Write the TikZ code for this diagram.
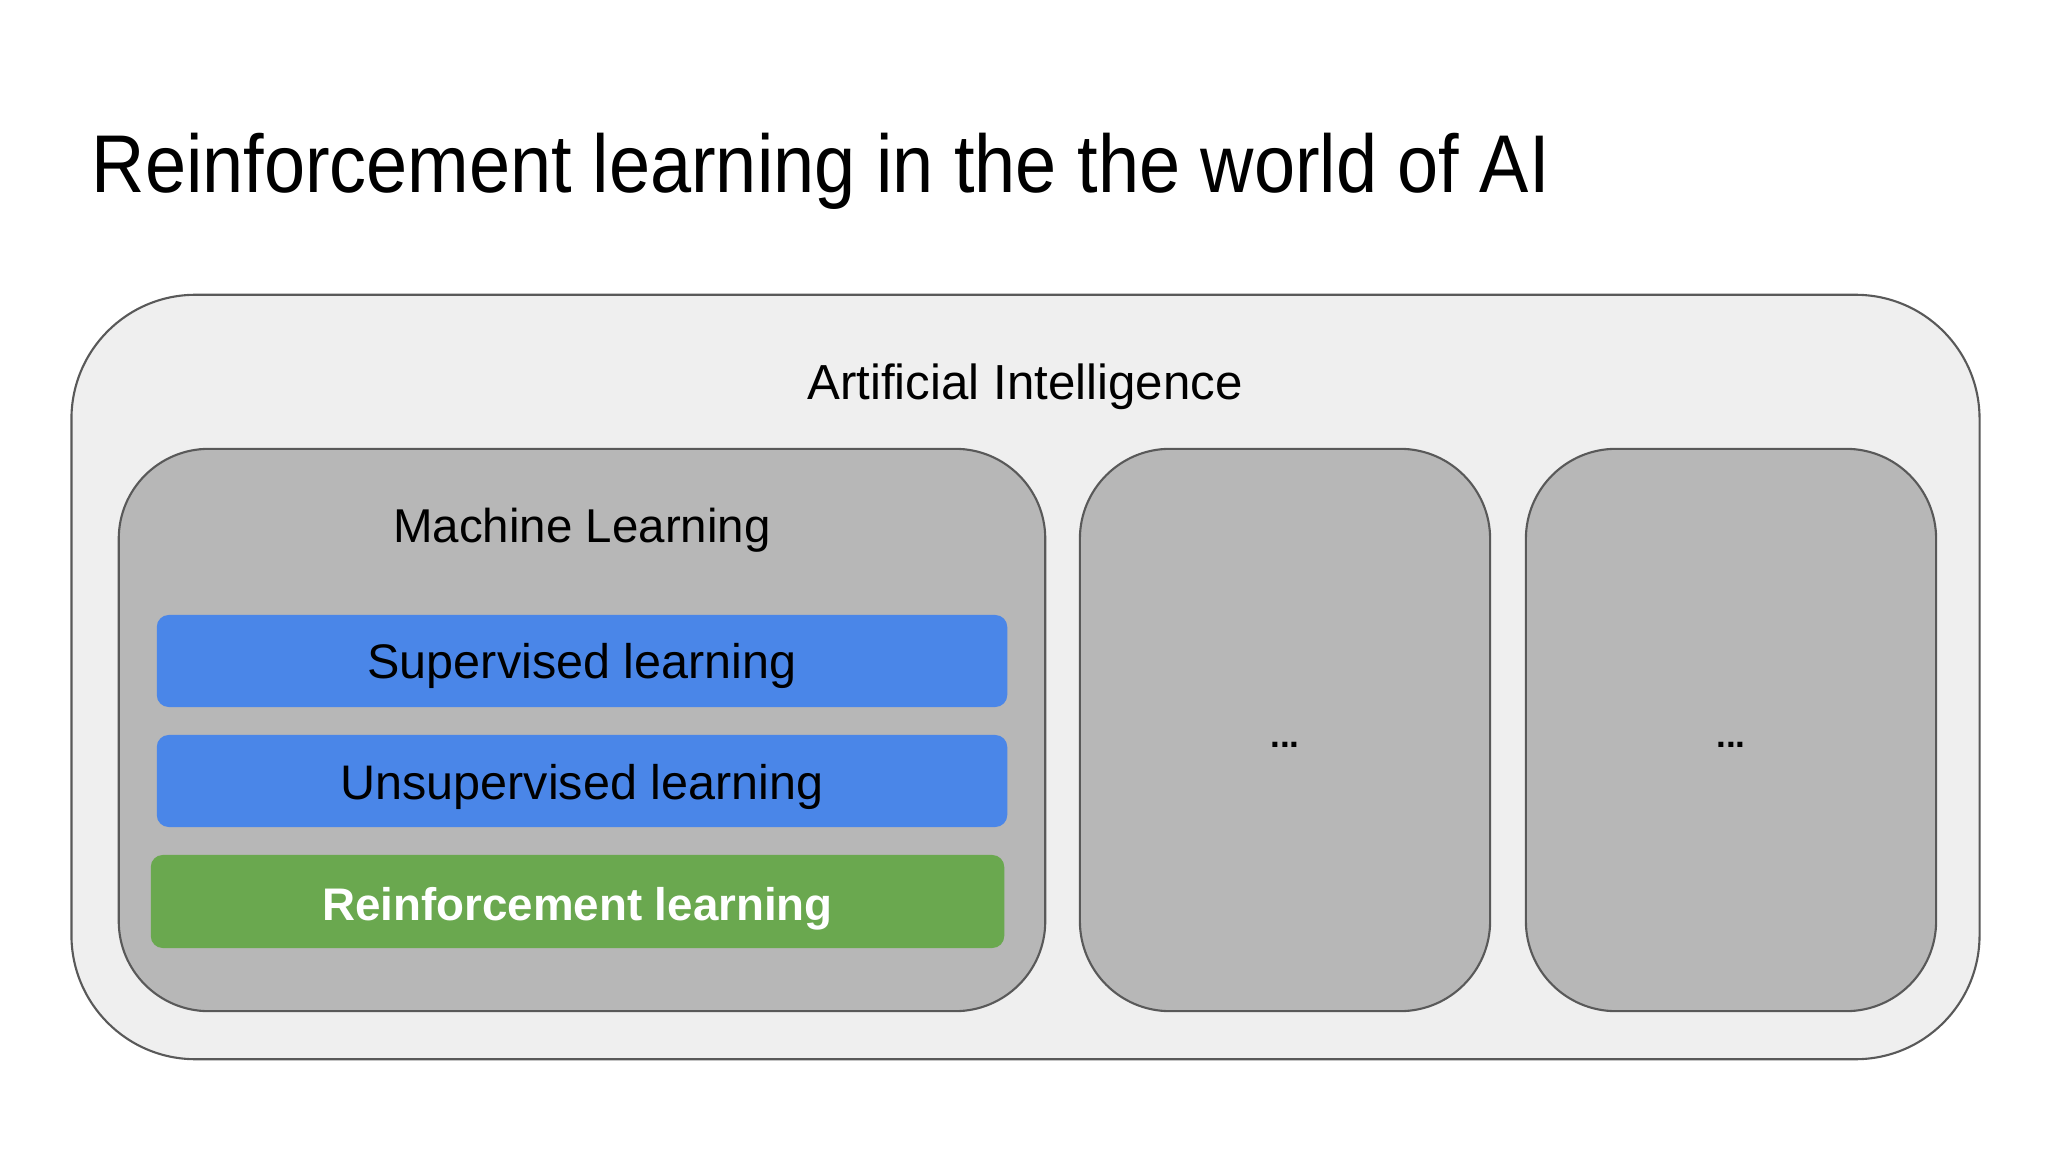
\documentclass[tikz,border=0pt]{standalone}
\usepackage{fontspec}
\setmainfont{Liberation Sans}
\newfontfamily\titlefont{Liberation Sans}[FakeStretch=0.902]
\usetikzlibrary{positioning}
\definecolor{aibg}{HTML}{EFEFEF}
\definecolor{mlbg}{HTML}{B7B7B7}
\definecolor{edgegray}{HTML}{595959}
\definecolor{blueb}{HTML}{4A86E8}
\definecolor{greenb}{HTML}{6AA84F}
\tikzset{
    aibox/.style = {rectangle, rounded corners=1.24cm, draw=edgegray, line width=0.6pt, fill=aibg, inner sep=0pt, outer sep=0pt},
    mlbox/.style = {rectangle, rounded corners=0.9cm, draw=edgegray, line width=0.6pt, fill=mlbg, inner sep=0pt, outer sep=0pt, minimum height=5.62cm},
    bluebox/.style = {rectangle, rounded corners=0.12cm, fill=blueb, inner sep=0pt, minimum width=8.5cm, minimum height=0.92cm},
    greenbox/.style = {rectangle, rounded corners=0.12cm, fill=greenb, inner sep=0pt, minimum width=8.53cm, minimum height=0.93cm},
    boxlabel/.style = {anchor=base, inner sep=0pt, font=\fontsize{14}{17}\selectfont, text=black},
    bluelabel/.style = {anchor=base, inner sep=0pt, font=\fontsize{13.8}{17}\selectfont, text=black},
    greenlabel/.style = {anchor=base, inner sep=0pt, font=\fontsize{13}{16}\selectfont\bfseries, text=white}
}
\begin{document}
\begin{tikzpicture}[x=0.01cm, y=-0.01cm]
  \path[use as bounding box, fill=white] (0,0) rectangle (2048,1152);
  \node[anchor=base west, inner sep=0pt, font=\titlefont\fontsize{23.3}{28}\selectfont] (title) at (91,193) {Reinforcement learning in the the world of AI};
  % outer box and the three inner ones
  \node[aibox, minimum width=19.07cm, minimum height=7.64cm] (ai) at (1025.5,677) {};
  \node[mlbox, minimum width=9.26cm] (ml) at (582,730) {};
  \node[mlbox, minimum width=4.1cm] (other1) at (1285,730) {};
  \node[mlbox, minimum width=4.1cm] (other2) at (1731,730) {};
  \node[boxlabel] (ailabel) at (1025,400) {Artificial Intelligence};
  \node[boxlabel, font=\fontsize{13.5}{16}\selectfont] (mllabel) at (582,543) {Machine Learning};
  % kinds of learning
  \node[bluebox] (sup) at (582,661) {};
  \node[bluebox] (unsup) at (582,781) {};
  \node[greenbox] (rl) at (577.5,901.5) {};
  \node[bluelabel] (suplabel) at (582,678) {Supervised learning};
  \node[bluelabel] (unsuplabel) at (582,799) {Unsupervised learning};
  \node[greenlabel] (rllabel) at (577.5,920) {Reinforcement learning};
  \node[boxlabel, font=\fontsize{10}{12}\selectfont\bfseries] (dots1) at (1285,747) {...};
  \node[boxlabel, font=\fontsize{10}{12}\selectfont\bfseries] (dots2) at (1731,747) {...};
\end{tikzpicture}
\end{document}
